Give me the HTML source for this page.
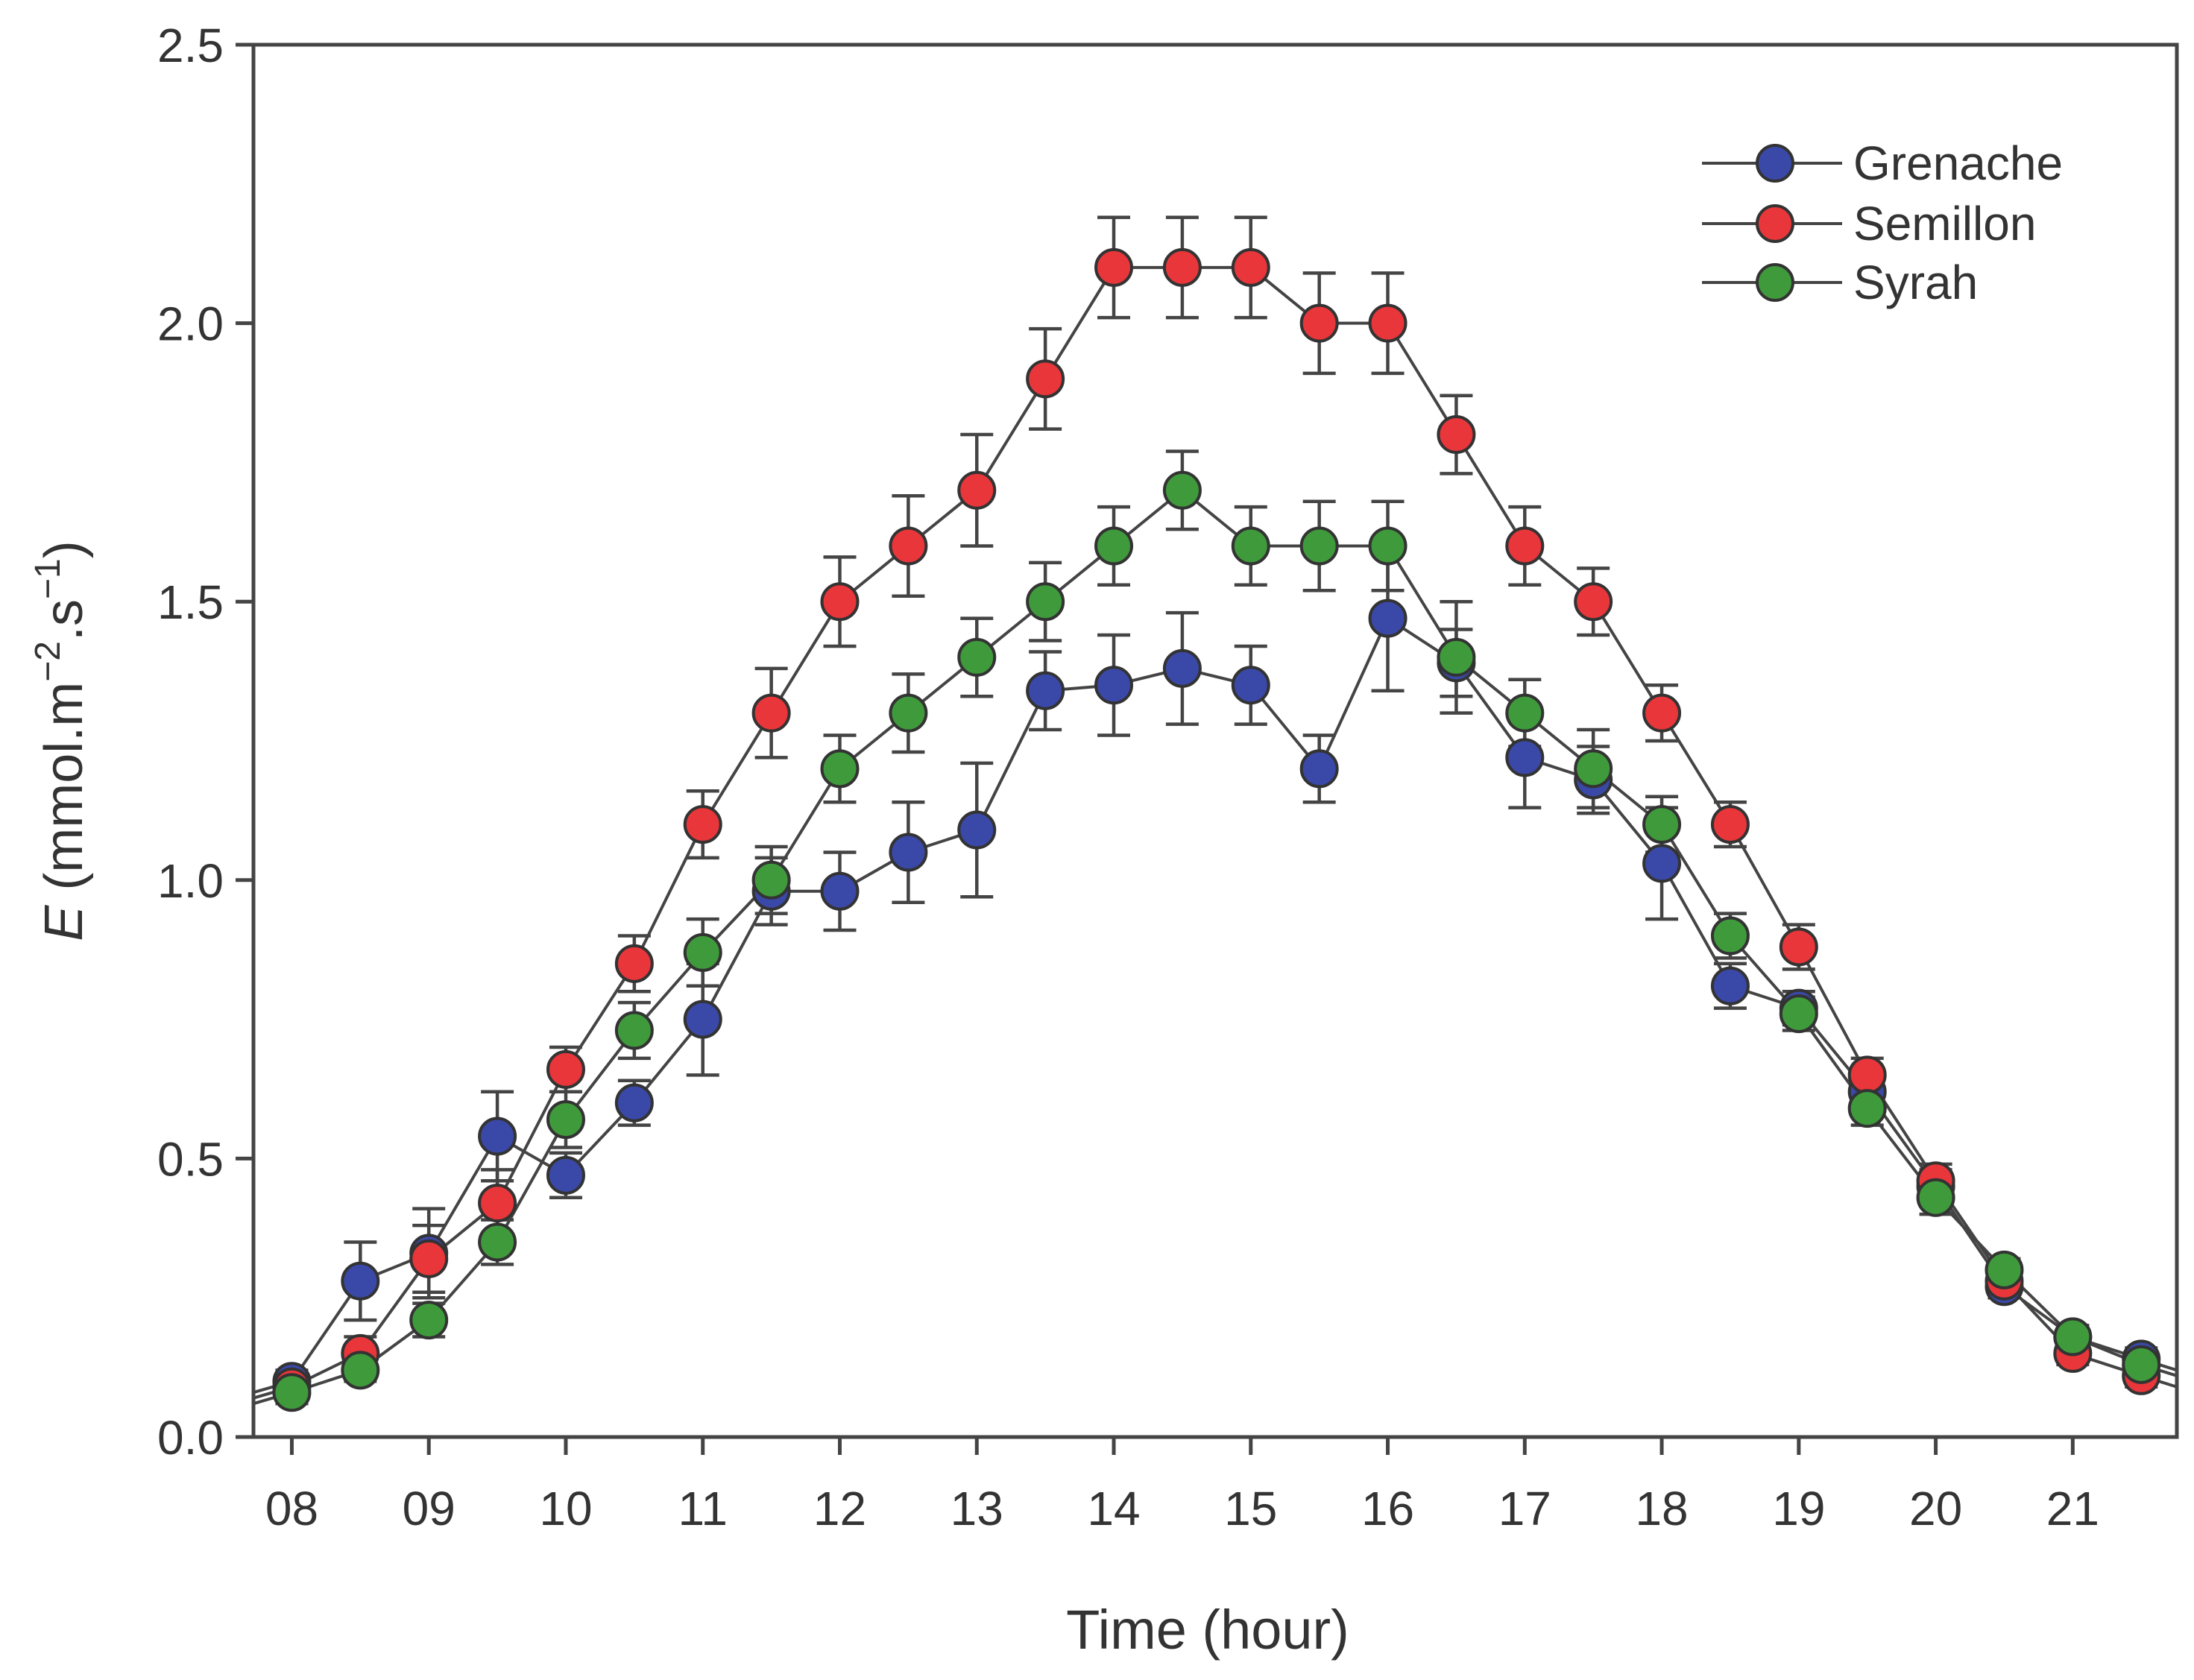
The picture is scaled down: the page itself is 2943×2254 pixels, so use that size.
<!DOCTYPE html>
<html><head><meta charset="utf-8"><style>
html,body{margin:0;padding:0;background:#fff;}
svg{display:block;font-family:"Liberation Sans",Arial,sans-serif;}
</style></head><body>
<svg id="chart" width="2943" height="2254" viewBox="0 0 2943 2254" xmlns="http://www.w3.org/2000/svg"></svg>
<script>
const times=[8,8.5,9,9.5,10,10.5,11,11.5,12,12.5,13,13.5,14,14.5,15,15.5,16,16.5,17,17.5,18,18.5,19,19.5,20,20.5,21,21.5];
const grenache=[0.1,0.28,0.33,0.54,0.47,0.6,0.75,0.98,0.98,1.05,1.09,1.34,1.35,1.38,1.35,1.2,1.47,1.39,1.22,1.18,1.03,0.81,0.77,0.62,0.45,0.27,0.18,0.14];
const grenacheErr=[0.02,0.07,0.08,0.08,0.04,0.04,0.1,0.06,0.07,0.09,0.12,0.07,0.09,0.1,0.07,0.06,0.13,0.06,0.09,0.06,0.1,0.04,0.03,0.03,0.03,0.02,0.02,0.02];
const semillon=[0.09,0.15,0.32,0.42,0.66,0.85,1.1,1.3,1.5,1.6,1.7,1.9,2.1,2.1,2.1,2.0,2.0,1.8,1.6,1.5,1.3,1.1,0.88,0.65,0.46,0.28,0.15,0.11];
const semillonErr=[0.02,0.03,0.06,0.06,0.04,0.05,0.06,0.08,0.08,0.09,0.1,0.09,0.09,0.09,0.09,0.09,0.09,0.07,0.07,0.06,0.05,0.04,0.04,0.03,0.03,0.02,0.02,0.02];
const syrah=[0.08,0.12,0.21,0.35,0.57,0.73,0.87,1.0,1.2,1.3,1.4,1.5,1.6,1.7,1.6,1.6,1.6,1.4,1.3,1.2,1.1,0.9,0.76,0.59,0.43,0.3,0.18,0.13];
const syrahErr=[0.02,0.02,0.03,0.04,0.05,0.05,0.06,0.06,0.06,0.07,0.07,0.07,0.07,0.07,0.07,0.08,0.08,0.1,0.06,0.07,0.05,0.04,0.03,0.03,0.03,0.02,0.02,0.02];
const xTicks=[8,9,10,11,12,13,14,15,16,17,18,19,20,21];
const xTickLabels=["08","09","10","11","12","13","14","15","16","17","18","19","20","21"];
const yTicks=[0,0.5,1.0,1.5,2.0,2.5];
const yTickLabels=["0.0","0.5","1.0","1.5","2.0","2.5"];
const seriesNames=["Grenache","Semillon","Syrah"];

const L=340,R=2920,T=60,B=1928,xmin=7.72,xmax=21.76,ymin=0,ymax=2.5;
const sx=v=>L+(v-xmin)/(xmax-xmin)*(R-L);
const sy=v=>B-(v-ymin)/(ymax-ymin)*(B-T);
const svg=document.getElementById('chart');
const NS="http://www.w3.org/2000/svg";
function mk(tag,attrs,parent){const e=document.createElementNS(NS,tag);for(const k in attrs)e.setAttribute(k,attrs[k]);(parent||svg).appendChild(e);return e;}

const frame=mk('rect',{x:L,y:T,width:R-L,height:B-T,fill:'none',stroke:'#444',"stroke-width":5});



xTicks.forEach((t,i)=>{
  const l=mk('line',{x1:sx(t),x2:sx(t),y1:B,y2:B+24,stroke:'#444',"stroke-width":5});
  
  
  const tx=mk('text',{x:sx(t),y:B+118,"text-anchor":'middle',"font-size":64,fill:'#333'});
  tx.textContent=xTickLabels[i];
  
  
});
yTicks.forEach((t,i)=>{
  const l=mk('line',{x1:L-24,x2:L,y1:sy(t),y2:sy(t),stroke:'#444',"stroke-width":5});
  
  
  const tx=mk('text',{x:L-40,y:sy(t)+23,"text-anchor":'end',"font-size":64,fill:'#333'});
  tx.textContent=yTickLabels[i];
  
  
});
const xt=mk('text',{x:(L+R)/2-10,y:2212,"text-anchor":'middle',"font-size":74,fill:'#333'});
xt.textContent='Time (hour)';


const yt=mk('text',{transform:`translate(110,${(T+B)/2}) rotate(-90)`,"text-anchor":'middle',"font-size":72,fill:'#333'});
yt.innerHTML='<tspan font-style="italic">E</tspan> (mmol.m<tspan dy="-30" font-size="48">−2</tspan><tspan dy="30">.s</tspan><tspan dy="-30" font-size="48">−1</tspan><tspan dy="30">)</tspan>';



const series=[[grenache,grenacheErr,'#3a49a8','grenache'],[semillon,semillonErr,'#e8363a','semillon'],[syrah,syrahErr,'#3f9a3c','syrah']];
series.forEach(([vals,errs,col,nm])=>{
  const g=mk('g',{});
  
  
  vals.forEach((v,i)=>{
    const x=sx(times[i]),y1=sy(v+errs[i]),y2=sy(v-errs[i]);
    mk('line',{x1:x,x2:x,y1:y1,y2:y2,stroke:'#444',"stroke-width":4.5},g);
    mk('line',{x1:x-22,x2:x+22,y1:y1,y2:y1,stroke:'#444',"stroke-width":4.5},g);
    mk('line',{x1:x-22,x2:x+22,y1:y2,y2:y2,stroke:'#444',"stroke-width":4.5},g);
  });
});
series.forEach(([vals,errs,col,nm])=>{
  const pts=vals.map((v,i)=>sx(times[i])+','+sy(v));
  pts.unshift(L+','+sy(vals[0]-0.02));
  pts.push(R+','+sy(vals[vals.length-1]-0.02));
  const pl=mk('polyline',{points:pts.join(' '),fill:'none',stroke:'#444',"stroke-width":4});
  
  
});
series.forEach(([vals,errs,col,nm])=>{
  vals.forEach((v,i)=>{
    const c=mk('circle',{cx:sx(times[i]),cy:sy(v),r:24,fill:col,stroke:'#333',"stroke-width":4});
    
    
  });
});
const ly=[219,300,379];
series.forEach(([vals,errs,col,nm],i)=>{
  const g=mk('g',{});
  
  
  mk('line',{x1:2283,x2:2471,y1:ly[i],y2:ly[i],stroke:'#444',"stroke-width":4},g);
  mk('circle',{cx:2381,cy:ly[i],r:24,fill:col,stroke:'#333',"stroke-width":4},g);
  const t=mk('text',{x:2486,y:ly[i]+22,"font-size":64,fill:'#333'},g);
  t.textContent=seriesNames[i];
});
</script>
</body></html>
